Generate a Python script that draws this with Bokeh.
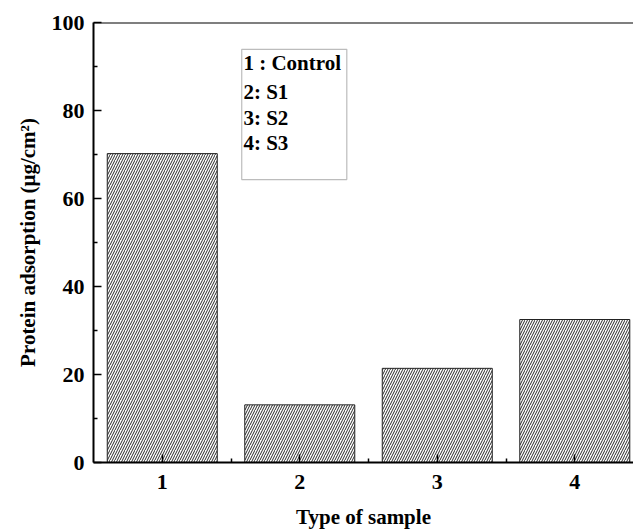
from bokeh.plotting import figure
from bokeh.models import FixedTicker, Span, BoxAnnotation, Range1d, ColumnDataSource
from bokeh.core.properties import value
from bokeh.embed import file_html
from bokeh.resources import INLINE

# ---- data ----
samples = [1, 2, 3, 4]
adsorption = [70.2, 13.1, 21.4, 32.5]
legend_lines = ["1 : Control", "2: S1", "3: S2", "4: S3"]
y_ticks = [0, 20, 40, 60, 80, 100]
y_minor = [10, 30, 50, 70, 90]
x_minor = [1.5, 2.5, 3.5]

FONT = "Liberation Serif"

p = figure(width=633, height=531, output_backend="svg", toolbar_location=None,
           x_range=Range1d(0.5, 4.427), y_range=Range1d(0, 100),
           min_border_left=93, min_border_right=0, min_border_top=22, min_border_bottom=69)
p.outline_line_color = None
p.grid.visible = False
p.background_fill_color = "white"

src = ColumnDataSource(dict(x=samples, top=adsorption))
p.vbar(x="x", top="top", width=0.8, bottom=0, source=src,
       fill_color="white", line_color="#222222", line_width=1,
       hatch_pattern="/", hatch_color="#111111", hatch_scale=5, hatch_weight=0.9)

# top frame line
p.add_layout(Span(location=100, dimension="width", line_color="black", line_width=2))

# axes
for ax in (p.xaxis[0], p.yaxis[0]):
    ax.axis_line_width = 2
    ax.axis_line_color = "black"
    ax.major_tick_in = 8
    ax.major_tick_out = 0
    ax.minor_tick_in = 4
    ax.minor_tick_out = 0
    ax.major_tick_line_width = 1.5
    ax.minor_tick_line_width = 1.5
    ax.major_label_text_font = FONT
    ax.major_label_text_font_style = "bold"
    ax.major_label_text_font_size = "22px"
    ax.major_label_text_color = "black"
    ax.axis_label_text_font = FONT
    ax.axis_label_text_font_style = "bold"
    ax.axis_label_text_font_size = "21px"
    ax.axis_label_text_color = "black"

p.xaxis.ticker = FixedTicker(ticks=samples, minor_ticks=x_minor)
p.yaxis.ticker = FixedTicker(ticks=y_ticks, minor_ticks=y_minor)
p.xaxis.major_label_standoff = 12
p.yaxis.major_label_standoff = 9
p.xaxis.axis_label = "Type of sample"
p.xaxis.axis_label_standoff = 13
p.yaxis.axis_label = "Protein adsorption (μg/cm²)"
p.yaxis.axis_label_standoff = 9

# legend box
p.add_layout(BoxAnnotation(left=1.578, right=2.342, top=93.9, bottom=64.3,
                           fill_alpha=0.0,
                           line_color="#222222", line_width=1.2))
leg = ColumnDataSource(dict(x=[1.59] * 4, y=[90.7, 84.3, 78.4, 72.7], t=legend_lines))
p.text(x="x", y="y", text="t", source=leg, text_font=value(FONT),
       text_font_style="bold", text_font_size="21px", text_color="black",
       text_baseline="middle", text_align="left")

open("out.html", "w").write(file_html(p, INLINE))
